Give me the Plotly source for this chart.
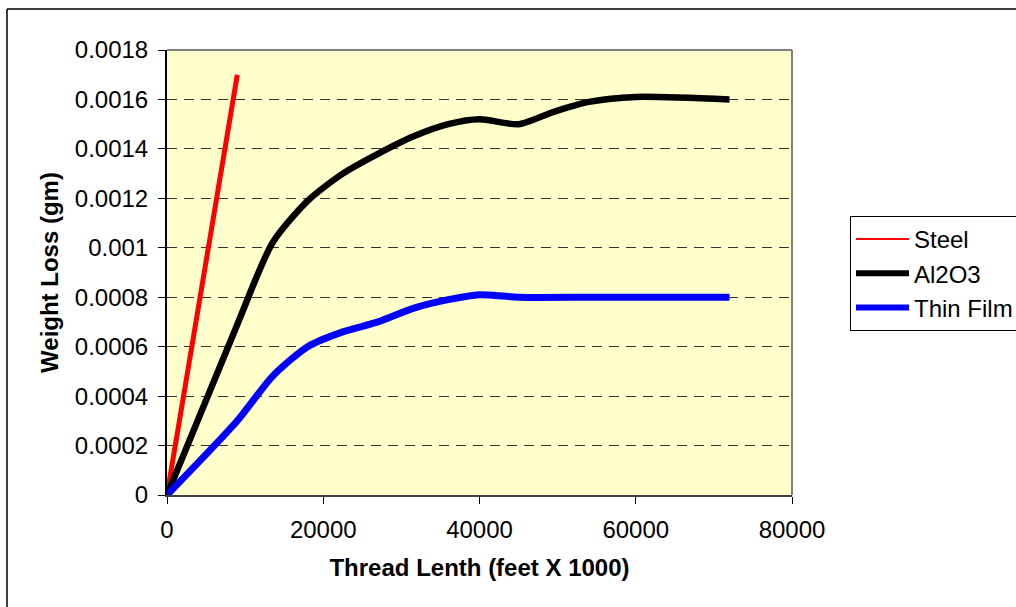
import plotly.graph_objects as go

# ---- data ----
steel_x = [0, 9000]
steel_y = [0, 0.0017]

al2o3_x = [0, 9000, 13500, 18000, 22500, 27000, 31500, 36000, 40000, 45000, 49500, 54000, 60000, 72000]
al2o3_y = [0, 0.00069, 0.00102, 0.00119, 0.00130, 0.00138, 0.00145, 0.00150, 0.00152, 0.00150, 0.00155, 0.00159, 0.00161, 0.00160]

film_x = [0, 9000, 13500, 18000, 22500, 27000, 31500, 36000, 40000, 45000, 54000, 63000, 72000]
film_y = [0, 0.00030, 0.00048, 0.00060, 0.00066, 0.00070, 0.000755, 0.00079, 0.00081, 0.00080, 0.00080, 0.00080, 0.00080]

x_tick_vals = [0, 20000, 40000, 60000, 80000]
x_tick_text = ["0", "20000", "40000", "60000", "80000"]
y_tick_vals = [0, 0.0002, 0.0004, 0.0006, 0.0008, 0.001, 0.0012, 0.0014, 0.0016, 0.0018]
y_tick_text = ["0", "0.0002", "0.0004", "0.0006", "0.0008", "0.001", "0.0012", "0.0014", "0.0016", "0.0018"]

FONT = "Liberation Sans, Arial, sans-serif"

fig = go.Figure()

series = [
    ("Steel", steel_x, steel_y, "#FF0000", 5, 2, "linear"),
    ("Al2O3", al2o3_x, al2o3_y, "#000000", 6.5, 6, "spline"),
    ("Thin Film", film_x, film_y, "#0000FF", 7, 6, "spline"),
]
for name, xs, ys, col, w, lw, shape in series:
    fig.add_trace(go.Scatter(
        x=xs, y=ys, mode="lines", name=name, showlegend=False,
        line=dict(color=col, width=w, shape=shape, smoothing=0.7),
        cliponaxis=False,
    ))
    # legend-only entry (Excel draws the steel legend line thinner)
    fig.add_trace(go.Scatter(
        x=[None], y=[None], mode="lines", name=name, legendgroup=name,
        line=dict(color=col, width=lw),
    ))

fig.update_layout(
    width=1060, height=607,
    margin=dict(l=167, r=268, t=50, b=112),
    paper_bgcolor="white",
    plot_bgcolor="#FFFFCC",
    font=dict(family=FONT, size=24, color="black"),
    showlegend=True,
    legend=dict(
        x=1.0928, y=0.627, xanchor="left", yanchor="top",
        bgcolor="white", bordercolor="black", borderwidth=1,
        font=dict(family=FONT, size=24, color="black"),
        itemwidth=53, tracegroupgap=0, traceorder="grouped",
    ),
    xaxis=dict(
        range=[0, 80000], tickvals=x_tick_vals, ticktext=x_tick_text,
        showgrid=False, zeroline=False,
        showline=True, linecolor="#404040", linewidth=2,
        ticks="outside", ticklen=7, tickcolor="black", tickwidth=1,
        ticklabelstandoff=5,
        title=dict(text="<b>Thread Lenth (feet X 1000)</b>", standoff=17,
                   font=dict(family=FONT, size=24)),
        tickfont=dict(family=FONT, size=24),
    ),
    yaxis=dict(
        range=[0, 0.0018], tickvals=y_tick_vals, ticktext=y_tick_text,
        showgrid=True, gridcolor="#333333", gridwidth=1, griddash="10px,7px",
        zeroline=False,
        showline=True, linecolor="black", linewidth=2,
        ticks="outside", ticklen=7, tickcolor="black", tickwidth=1,
        ticklabelstandoff=5,
        title=dict(text="<b>Weight Loss (gm)</b>", standoff=9,
                   font=dict(family=FONT, size=24)),
        tickfont=dict(family=FONT, size=24),
    ),
    shapes=[
        # grey frame on top and right of plot area
        dict(type="line", xref="paper", yref="paper", x0=0, x1=1, y0=1, y1=1,
             line=dict(color="#808080", width=2)),
        dict(type="line", xref="paper", yref="paper", x0=1, x1=1, y0=0, y1=1,
             line=dict(color="#808080", width=2)),
        # outer chart border (top and left visible)
        dict(type="line", xref="paper", yref="paper", x0=-0.256, x1=1.6, y0=1.0921, y1=1.0921,
             line=dict(color="black", width=1.5)),
        dict(type="line", xref="paper", yref="paper", x0=-0.256, x1=-0.256, y0=-0.4, y1=1.0921,
             line=dict(color="black", width=1.5)),
    ],
)

fig.write_html("out.html", config={"displayModeBar": False},
               post_script="document.body.style.margin='0';")
